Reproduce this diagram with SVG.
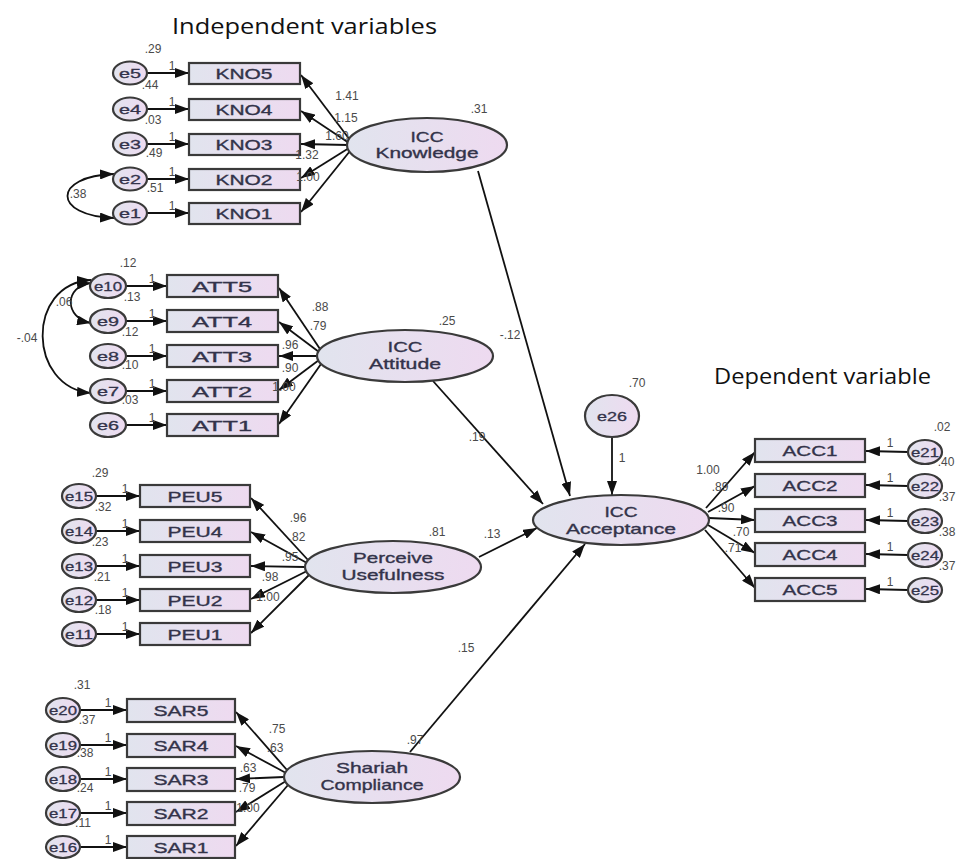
<svg xmlns="http://www.w3.org/2000/svg" width="956" height="859" viewBox="0 0 956 859">
<defs>
<linearGradient id="g" x1="0" y1="0" x2="1" y2="0">
<stop offset="0" stop-color="#e1e4ee"/>
<stop offset="1" stop-color="#eedaf0"/>
</linearGradient>
<marker id="ah" viewBox="0 0 14 10" markerWidth="14" markerHeight="10" refX="14" refY="5" orient="auto-start-reverse" markerUnits="userSpaceOnUse">
<path d="M0,0 L14,5 L0,10 z" fill="#111"/>
</marker>
<style>
.box{fill:url(#g);stroke:#3a3a3a;stroke-width:2.2}
.lat{fill:url(#g);stroke:#3a3a3a;stroke-width:2.2}
.err{fill:url(#g);stroke:#3a3a3a;stroke-width:2.2}
.lbl{font-family:"Liberation Sans",Arial,sans-serif;font-size:15px;fill:#33334a;stroke:#33334a;stroke-width:0.35;text-anchor:middle}
.el{font-family:"Liberation Sans",Arial,sans-serif;font-size:13px;fill:#33334a;stroke:#33334a;stroke-width:0.3;text-anchor:middle}
.num{font-family:"Liberation Sans",Arial,sans-serif;font-size:12px;fill:#4a4a4a;text-anchor:middle}
.ttl{font-family:"Open Sans","Noto Sans",sans-serif;font-size:21px;fill:#111}
.c{stroke:#111;stroke-width:1.8;fill:none;marker-end:url(#ah)}
.cv{stroke:#111;stroke-width:1.8;fill:none;marker-end:url(#ah);marker-start:url(#ah)}
</style>
</defs>
<rect width="956" height="859" fill="#fff"/>
<text class="ttl" x="172" y="34" textLength="265" lengthAdjust="spacingAndGlyphs">Independent variables</text>
<text class="ttl" x="714" y="384" textLength="217" lengthAdjust="spacingAndGlyphs">Dependent variable</text>

<g id="connectors">
<line class="c" x1="147" y1="73" x2="189" y2="73"/>
<line class="c" x1="147" y1="109" x2="189" y2="109"/>
<line class="c" x1="147" y1="144" x2="189" y2="144"/>
<line class="c" x1="147" y1="179" x2="189" y2="179"/>
<line class="c" x1="147" y1="213" x2="189" y2="213"/>
<line class="c" x1="350" y1="140" x2="301" y2="75"/>
<line class="c" x1="349" y1="143" x2="301" y2="111"/>
<line class="c" x1="348" y1="145" x2="301" y2="144"/>
<line class="c" x1="349" y1="148" x2="301" y2="178"/>
<line class="c" x1="350" y1="151" x2="301" y2="212"/>
<path class="cv" d="M114,174 C52,176 52,216 114,218"/>
<line class="c" x1="126" y1="286" x2="167" y2="286"/>
<line class="c" x1="126" y1="321" x2="167" y2="321"/>
<line class="c" x1="126" y1="356" x2="167" y2="356"/>
<line class="c" x1="126" y1="391" x2="167" y2="391"/>
<line class="c" x1="126" y1="425" x2="167" y2="425"/>
<line class="c" x1="320" y1="349" x2="279" y2="288"/>
<line class="c" x1="319" y1="352" x2="279" y2="322"/>
<line class="c" x1="317" y1="356" x2="279" y2="356"/>
<line class="c" x1="319" y1="360" x2="279" y2="390"/>
<line class="c" x1="321" y1="364" x2="279" y2="424"/>
<path class="cv" d="M91,283 C64,286 64,318 91,323"/>
<path class="cv" d="M91,280 C25,284 28,388 91,393"/>
<line class="c" x1="96" y1="496" x2="140" y2="496"/>
<line class="c" x1="96" y1="531" x2="140" y2="531"/>
<line class="c" x1="96" y1="566" x2="140" y2="566"/>
<line class="c" x1="96" y1="600" x2="140" y2="600"/>
<line class="c" x1="96" y1="634" x2="140" y2="634"/>
<line class="c" x1="308" y1="560" x2="251" y2="498"/>
<line class="c" x1="307" y1="563" x2="251" y2="532"/>
<line class="c" x1="305" y1="567" x2="251" y2="566"/>
<line class="c" x1="307" y1="571" x2="251" y2="599"/>
<line class="c" x1="309" y1="575" x2="251" y2="633"/>
<line class="c" x1="80" y1="710" x2="127" y2="710"/>
<line class="c" x1="80" y1="745" x2="127" y2="745"/>
<line class="c" x1="80" y1="779" x2="127" y2="779"/>
<line class="c" x1="80" y1="813" x2="127" y2="813"/>
<line class="c" x1="80" y1="847" x2="127" y2="847"/>
<line class="c" x1="287" y1="770" x2="236" y2="712"/>
<line class="c" x1="286" y1="773" x2="236" y2="746"/>
<line class="c" x1="284" y1="777" x2="236" y2="779"/>
<line class="c" x1="286" y1="781" x2="236" y2="812"/>
<line class="c" x1="288" y1="785" x2="236" y2="846"/>
<line class="c" x1="706" y1="508" x2="755" y2="452"/>
<line class="c" x1="708" y1="512" x2="755" y2="486"/>
<line class="c" x1="709" y1="518" x2="755" y2="520"/>
<line class="c" x1="708" y1="525" x2="755" y2="553"/>
<line class="c" x1="705" y1="530" x2="755" y2="588"/>
<line class="c" x1="908" y1="452" x2="866" y2="451"/>
<line class="c" x1="908" y1="486" x2="866" y2="485"/>
<line class="c" x1="908" y1="521" x2="866" y2="520"/>
<line class="c" x1="908" y1="555" x2="866" y2="554"/>
<line class="c" x1="908" y1="590" x2="866" y2="589"/>
<line class="c" x1="478" y1="171" x2="570" y2="496"/>
<line class="c" x1="433" y1="381" x2="543" y2="504"/>
<line class="c" x1="479" y1="557" x2="537" y2="528"/>
<line class="c" x1="410" y1="752" x2="585" y2="544"/>
<line class="c" x1="612" y1="437" x2="612" y2="495"/>
</g>

<g id="KNO5"><rect class="box" x="189" y="63" width="111" height="21"/><text class="lbl" x="244" y="79" textLength="57" lengthAdjust="spacingAndGlyphs">KNO5</text></g>
<g id="KNO4"><rect class="box" x="189" y="99" width="111" height="21"/><text class="lbl" x="244" y="115" textLength="57" lengthAdjust="spacingAndGlyphs">KNO4</text></g>
<g id="KNO3"><rect class="box" x="189" y="134" width="111" height="21"/><text class="lbl" x="244" y="150" textLength="57" lengthAdjust="spacingAndGlyphs">KNO3</text></g>
<g id="KNO2"><rect class="box" x="189" y="169" width="111" height="21"/><text class="lbl" x="244" y="185" textLength="57" lengthAdjust="spacingAndGlyphs">KNO2</text></g>
<g id="KNO1"><rect class="box" x="189" y="203" width="111" height="21"/><text class="lbl" x="244" y="219" textLength="57" lengthAdjust="spacingAndGlyphs">KNO1</text></g>

<g id="e5"><ellipse class="err" cx="130" cy="73" rx="17" ry="11.5"/><text class="el" x="130" y="78" textLength="22" lengthAdjust="spacingAndGlyphs">e5</text></g>
<g id="e4"><ellipse class="err" cx="130" cy="109" rx="17" ry="11.5"/><text class="el" x="130" y="114" textLength="22" lengthAdjust="spacingAndGlyphs">e4</text></g>
<g id="e3"><ellipse class="err" cx="130" cy="144" rx="17" ry="11.5"/><text class="el" x="130" y="149" textLength="22" lengthAdjust="spacingAndGlyphs">e3</text></g>
<g id="e2"><ellipse class="err" cx="130" cy="179" rx="17" ry="11.5"/><text class="el" x="130" y="184" textLength="22" lengthAdjust="spacingAndGlyphs">e2</text></g>
<g id="e1"><ellipse class="err" cx="130" cy="213" rx="17" ry="11.5"/><text class="el" x="130" y="218" textLength="22" lengthAdjust="spacingAndGlyphs">e1</text></g>

<g id="ATT5"><rect class="box" x="167" y="275" width="111" height="22"/><text class="lbl" x="222" y="292" textLength="60" lengthAdjust="spacingAndGlyphs">ATT5</text></g>
<g id="ATT4"><rect class="box" x="167" y="310" width="111" height="22"/><text class="lbl" x="222" y="327" textLength="60" lengthAdjust="spacingAndGlyphs">ATT4</text></g>
<g id="ATT3"><rect class="box" x="167" y="345" width="111" height="22"/><text class="lbl" x="222" y="362" textLength="60" lengthAdjust="spacingAndGlyphs">ATT3</text></g>
<g id="ATT2"><rect class="box" x="167" y="380" width="111" height="22"/><text class="lbl" x="222" y="397" textLength="60" lengthAdjust="spacingAndGlyphs">ATT2</text></g>
<g id="ATT1"><rect class="box" x="167" y="414" width="111" height="22"/><text class="lbl" x="222" y="431" textLength="60" lengthAdjust="spacingAndGlyphs">ATT1</text></g>

<g id="e10"><ellipse class="err" cx="108" cy="286" rx="18" ry="12"/><text class="el" x="108" y="291" textLength="28" lengthAdjust="spacingAndGlyphs">e10</text></g>
<g id="e9"><ellipse class="err" cx="108" cy="321" rx="18" ry="12"/><text class="el" x="108" y="326" textLength="22" lengthAdjust="spacingAndGlyphs">e9</text></g>
<g id="e8"><ellipse class="err" cx="108" cy="356" rx="18" ry="12"/><text class="el" x="108" y="361" textLength="22" lengthAdjust="spacingAndGlyphs">e8</text></g>
<g id="e7"><ellipse class="err" cx="108" cy="391" rx="18" ry="12"/><text class="el" x="108" y="396" textLength="22" lengthAdjust="spacingAndGlyphs">e7</text></g>
<g id="e6"><ellipse class="err" cx="108" cy="425" rx="18" ry="12"/><text class="el" x="108" y="430" textLength="22" lengthAdjust="spacingAndGlyphs">e6</text></g>

<g id="PEU5"><rect class="box" x="140" y="485" width="110" height="22"/><text class="lbl" x="195" y="502" textLength="55" lengthAdjust="spacingAndGlyphs">PEU5</text></g>
<g id="PEU4"><rect class="box" x="140" y="520" width="110" height="22"/><text class="lbl" x="195" y="537" textLength="55" lengthAdjust="spacingAndGlyphs">PEU4</text></g>
<g id="PEU3"><rect class="box" x="140" y="555" width="110" height="22"/><text class="lbl" x="195" y="572" textLength="55" lengthAdjust="spacingAndGlyphs">PEU3</text></g>
<g id="PEU2"><rect class="box" x="140" y="589" width="110" height="22"/><text class="lbl" x="195" y="606" textLength="55" lengthAdjust="spacingAndGlyphs">PEU2</text></g>
<g id="PEU1"><rect class="box" x="140" y="623" width="110" height="22"/><text class="lbl" x="195" y="640" textLength="55" lengthAdjust="spacingAndGlyphs">PEU1</text></g>

<g id="e15"><ellipse class="err" cx="79" cy="496" rx="17" ry="12"/><text class="el" x="79" y="501" textLength="28" lengthAdjust="spacingAndGlyphs">e15</text></g>
<g id="e14"><ellipse class="err" cx="79" cy="531" rx="17" ry="12"/><text class="el" x="79" y="536" textLength="28" lengthAdjust="spacingAndGlyphs">e14</text></g>
<g id="e13"><ellipse class="err" cx="79" cy="566" rx="17" ry="12"/><text class="el" x="79" y="571" textLength="28" lengthAdjust="spacingAndGlyphs">e13</text></g>
<g id="e12"><ellipse class="err" cx="79" cy="600" rx="17" ry="12"/><text class="el" x="79" y="605" textLength="28" lengthAdjust="spacingAndGlyphs">e12</text></g>
<g id="e11"><ellipse class="err" cx="79" cy="634" rx="17" ry="12"/><text class="el" x="79" y="639" textLength="28" lengthAdjust="spacingAndGlyphs">e11</text></g>

<g id="SAR5"><rect class="box" x="127" y="699" width="108" height="23"/><text class="lbl" x="181" y="716" textLength="55" lengthAdjust="spacingAndGlyphs">SAR5</text></g>
<g id="SAR4"><rect class="box" x="127" y="734" width="108" height="23"/><text class="lbl" x="181" y="751" textLength="55" lengthAdjust="spacingAndGlyphs">SAR4</text></g>
<g id="SAR3"><rect class="box" x="127" y="768" width="108" height="23"/><text class="lbl" x="181" y="785" textLength="55" lengthAdjust="spacingAndGlyphs">SAR3</text></g>
<g id="SAR2"><rect class="box" x="127" y="802" width="108" height="23"/><text class="lbl" x="181" y="819" textLength="55" lengthAdjust="spacingAndGlyphs">SAR2</text></g>
<g id="SAR1"><rect class="box" x="127" y="836" width="108" height="22"/><text class="lbl" x="181" y="853" textLength="55" lengthAdjust="spacingAndGlyphs">SAR1</text></g>

<g id="e20"><ellipse class="err" cx="63" cy="710" rx="17" ry="12"/><text class="el" x="63" y="715" textLength="28" lengthAdjust="spacingAndGlyphs">e20</text></g>
<g id="e19"><ellipse class="err" cx="63" cy="745" rx="17" ry="12"/><text class="el" x="63" y="750" textLength="28" lengthAdjust="spacingAndGlyphs">e19</text></g>
<g id="e18"><ellipse class="err" cx="63" cy="779" rx="17" ry="12"/><text class="el" x="63" y="784" textLength="28" lengthAdjust="spacingAndGlyphs">e18</text></g>
<g id="e17"><ellipse class="err" cx="63" cy="813" rx="17" ry="12"/><text class="el" x="63" y="818" textLength="28" lengthAdjust="spacingAndGlyphs">e17</text></g>
<g id="e16"><ellipse class="err" cx="63" cy="847" rx="17" ry="11"/><text class="el" x="63" y="852" textLength="28" lengthAdjust="spacingAndGlyphs">e16</text></g>

<g id="ACC1"><rect class="box" x="755" y="439" width="110" height="23"/><text class="lbl" x="810" y="456" textLength="55" lengthAdjust="spacingAndGlyphs">ACC1</text></g>
<g id="ACC2"><rect class="box" x="755" y="474" width="110" height="23"/><text class="lbl" x="810" y="491" textLength="55" lengthAdjust="spacingAndGlyphs">ACC2</text></g>
<g id="ACC3"><rect class="box" x="755" y="509" width="110" height="23"/><text class="lbl" x="810" y="526" textLength="55" lengthAdjust="spacingAndGlyphs">ACC3</text></g>
<g id="ACC4"><rect class="box" x="755" y="543" width="110" height="23"/><text class="lbl" x="810" y="560" textLength="55" lengthAdjust="spacingAndGlyphs">ACC4</text></g>
<g id="ACC5"><rect class="box" x="755" y="578" width="110" height="23"/><text class="lbl" x="810" y="595" textLength="55" lengthAdjust="spacingAndGlyphs">ACC5</text></g>

<g id="e21"><ellipse class="err" cx="925" cy="452" rx="17" ry="12"/><text class="el" x="925" y="457" textLength="28" lengthAdjust="spacingAndGlyphs">e21</text></g>
<g id="e22"><ellipse class="err" cx="925" cy="486" rx="17" ry="12"/><text class="el" x="925" y="491" textLength="28" lengthAdjust="spacingAndGlyphs">e22</text></g>
<g id="e23"><ellipse class="err" cx="925" cy="521" rx="17" ry="12"/><text class="el" x="925" y="526" textLength="28" lengthAdjust="spacingAndGlyphs">e23</text></g>
<g id="e24"><ellipse class="err" cx="925" cy="555" rx="17" ry="12"/><text class="el" x="925" y="560" textLength="28" lengthAdjust="spacingAndGlyphs">e24</text></g>
<g id="e25"><ellipse class="err" cx="925" cy="590" rx="17" ry="12"/><text class="el" x="925" y="595" textLength="28" lengthAdjust="spacingAndGlyphs">e25</text></g>

<g id="ICC_Knowledge"><ellipse class="lat" cx="427" cy="145" rx="80" ry="27"/><text class="lbl" x="427" y="142" textLength="33" lengthAdjust="spacingAndGlyphs">ICC</text><text class="lbl" x="427" y="158" textLength="103" lengthAdjust="spacingAndGlyphs">Knowledge</text></g>
<g id="ICC_Attitude"><ellipse class="lat" cx="405" cy="356" rx="88" ry="26"/><text class="lbl" x="405" y="352" textLength="35" lengthAdjust="spacingAndGlyphs">ICC</text><text class="lbl" x="405" y="369" textLength="72" lengthAdjust="spacingAndGlyphs">Attitude</text></g>
<g id="Perceive_Usefulness"><ellipse class="lat" cx="393" cy="567" rx="88" ry="26"/><text class="lbl" x="393" y="563" textLength="80" lengthAdjust="spacingAndGlyphs">Perceive</text><text class="lbl" x="393" y="580" textLength="103" lengthAdjust="spacingAndGlyphs">Usefulness</text></g>
<g id="Shariah_Compliance"><ellipse class="lat" cx="372" cy="777" rx="88" ry="26"/><text class="lbl" x="372" y="773" textLength="72" lengthAdjust="spacingAndGlyphs">Shariah</text><text class="lbl" x="372" y="790" textLength="103" lengthAdjust="spacingAndGlyphs">Compliance</text></g>
<g id="ICC_Acceptance"><ellipse class="lat" cx="621" cy="520" rx="88" ry="25"/><text class="lbl" x="621" y="517" textLength="33" lengthAdjust="spacingAndGlyphs">ICC</text><text class="lbl" x="621" y="534" textLength="110" lengthAdjust="spacingAndGlyphs">Acceptance</text></g>
<g id="e26"><ellipse class="err" cx="612" cy="416" rx="27" ry="21"/><text class="el" x="612" y="421" textLength="30" lengthAdjust="spacingAndGlyphs">e26</text></g>

<g id="labels">
<text class="num" x="153" y="53">.29</text>
<text class="num" x="150" y="89">.44</text>
<text class="num" x="153" y="124">.03</text>
<text class="num" x="154" y="157">.49</text>
<text class="num" x="155" y="192">.51</text>
<text class="num" x="172" y="70">1</text>
<text class="num" x="172" y="106">1</text>
<text class="num" x="172" y="141">1</text>
<text class="num" x="172" y="176">1</text>
<text class="num" x="172" y="210">1</text>
<text class="num" x="347" y="100">1.41</text>
<text class="num" x="346" y="122">1.15</text>
<text class="num" x="337" y="140">1.60</text>
<text class="num" x="307" y="159">1.32</text>
<text class="num" x="308" y="181">1.00</text>
<text class="num" x="78" y="198">.38</text>
<text class="num" x="128" y="267">.12</text>
<text class="num" x="132" y="301">.13</text>
<text class="num" x="130" y="336">.12</text>
<text class="num" x="130" y="369">.10</text>
<text class="num" x="130" y="404">.03</text>
<text class="num" x="152" y="283">1</text>
<text class="num" x="152" y="318">1</text>
<text class="num" x="152" y="353">1</text>
<text class="num" x="152" y="388">1</text>
<text class="num" x="152" y="422">1</text>
<text class="num" x="320" y="311">.88</text>
<text class="num" x="318" y="330">.79</text>
<text class="num" x="290" y="349">.96</text>
<text class="num" x="290" y="372">.90</text>
<text class="num" x="284" y="391">1.00</text>
<text class="num" x="64" y="306">.06</text>
<text class="num" x="27" y="342">-.04</text>
<text class="num" x="100" y="477">.29</text>
<text class="num" x="103" y="511">.32</text>
<text class="num" x="100" y="546">.23</text>
<text class="num" x="102" y="581">.21</text>
<text class="num" x="103" y="614">.18</text>
<text class="num" x="125" y="493">1</text>
<text class="num" x="125" y="528">1</text>
<text class="num" x="125" y="563">1</text>
<text class="num" x="125" y="597">1</text>
<text class="num" x="125" y="631">1</text>
<text class="num" x="298" y="522">.96</text>
<text class="num" x="297" y="541">.82</text>
<text class="num" x="290" y="561">.95</text>
<text class="num" x="270" y="581">.98</text>
<text class="num" x="268" y="601">1.00</text>
<text class="num" x="82" y="689">.31</text>
<text class="num" x="87" y="724">.37</text>
<text class="num" x="85" y="757">.38</text>
<text class="num" x="85" y="792">.24</text>
<text class="num" x="83" y="827">.11</text>
<text class="num" x="108" y="707">1</text>
<text class="num" x="108" y="742">1</text>
<text class="num" x="108" y="776">1</text>
<text class="num" x="108" y="810">1</text>
<text class="num" x="108" y="844">1</text>
<text class="num" x="277" y="733">.75</text>
<text class="num" x="275" y="752">.63</text>
<text class="num" x="248" y="772">.63</text>
<text class="num" x="247" y="792">.79</text>
<text class="num" x="248" y="812">1.00</text>
<text class="num" x="942" y="431">.02</text>
<text class="num" x="946" y="466">.40</text>
<text class="num" x="947" y="501">.37</text>
<text class="num" x="947" y="536">.38</text>
<text class="num" x="947" y="570">.37</text>
<text class="num" x="890" y="447">1</text>
<text class="num" x="890" y="482">1</text>
<text class="num" x="890" y="517">1</text>
<text class="num" x="890" y="551">1</text>
<text class="num" x="890" y="586">1</text>
<text class="num" x="708" y="474">1.00</text>
<text class="num" x="720" y="491">.89</text>
<text class="num" x="726" y="512">.90</text>
<text class="num" x="741" y="536">.70</text>
<text class="num" x="733" y="552">.71</text>
<text class="num" x="479" y="113">.31</text>
<text class="num" x="447" y="325">.25</text>
<text class="num" x="437" y="536">.81</text>
<text class="num" x="415" y="744">.97</text>
<text class="num" x="637" y="387">.70</text>
<text class="num" x="622" y="462">1</text>
<text class="num" x="510" y="339">-.12</text>
<text class="num" x="477" y="441">.19</text>
<text class="num" x="492" y="538">.13</text>
<text class="num" x="466" y="652">.15</text>
</g>
</svg>
